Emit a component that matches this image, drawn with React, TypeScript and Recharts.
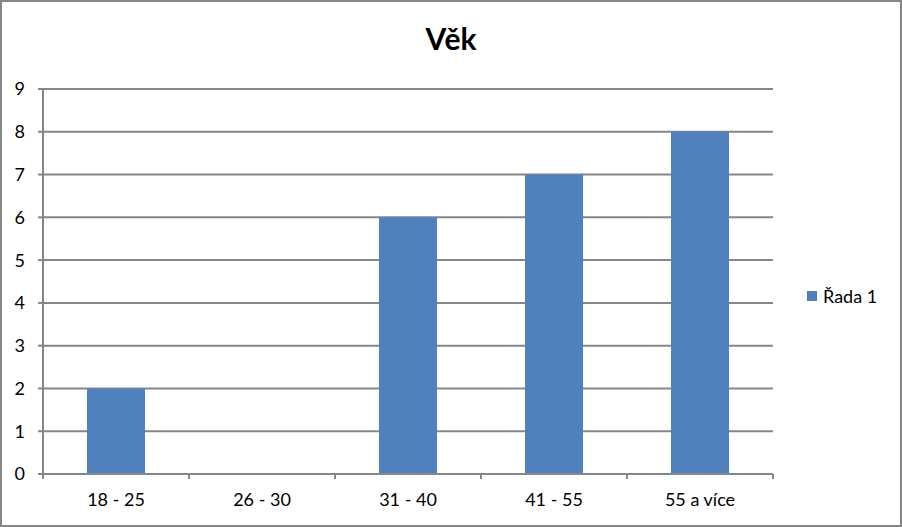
import { BarChart, Bar, XAxis, YAxis, CartesianGrid } from "recharts";

const categories = ["18 - 25", "26 - 30", "31 - 40", "41 - 55", "55 a více"];
const values = [2, 0, 6, 7, 8];
const yTicks = [0, 1, 2, 3, 4, 5, 6, 7, 8, 9];
const seriesName = "Řada 1";
const title = "Věk";

const data = categories.map((c, i) => ({ name: c, value: values[i] }));

const GRAY = "#868686";
const BLUE = "#4f81bd";
const FONT = "Lato, 'DejaVu Sans', sans-serif";

// category axis tick: label in the middle, tick marks on the category edges
function EdgeTick(props: any) {
  const { x, y, payload, index, visibleTicksCount } = props;
  const half = payload && payload.offset ? payload.offset : 73;
  const last = index === (visibleTicksCount ?? categories.length) - 1;
  return (
    <g>
      <line x1={x - half} y1={y - 8} x2={x - half} y2={y - 3} stroke={GRAY} strokeWidth={2} />
      {last && <line x1={x + half} y1={y - 8} x2={x + half} y2={y - 3} stroke={GRAY} strokeWidth={2} />}
      <text x={x} y={y + 24} textAnchor="middle" fill="#000" fontSize={18} fontFamily={FONT}>
        {payload.value}
      </text>
    </g>
  );
}

export default function App() {
  return (
    <div style={{ position: "absolute", left: 0, top: 0, width: 902, height: 527, background: "#fff" }}>
      <BarChart
        width={902}
        height={527}
        data={data}
        margin={{ top: 89, right: 129, bottom: 0, left: 0 }}
      >
        <CartesianGrid horizontal vertical={false} stroke={GRAY} strokeWidth={2} />
        <XAxis
          dataKey="name"
          height={53}
          tickLine={false}
          axisLine={{ stroke: GRAY, strokeWidth: 2 }}
          tick={<EdgeTick />}
          interval={0}
        />
        <YAxis
          width={43}
          domain={[0, 9]}
          ticks={yTicks}
          interval={0}
          tickSize={5}
          tickMargin={13}
          tickLine={{ stroke: GRAY, strokeWidth: 2 }}
          axisLine={{ stroke: GRAY, strokeWidth: 2 }}
          tick={{ fill: "#000", fontSize: 18, fontFamily: FONT }}
        />
        <Bar dataKey="value" name={seriesName} fill={BLUE} barSize={58} isAnimationActive={false} />
      </BarChart>
      <div
        style={{
          position: "absolute",
          left: 0,
          top: 20,
          width: 902,
          textAlign: "center",
          fontFamily: FONT,
          fontWeight: 700,
          fontSize: 30,
          lineHeight: "36px",
          color: "#000",
        }}
      >
        {title}
      </div>
      <div
        style={{
          position: "absolute",
          left: 807,
          top: 284,
          display: "flex",
          alignItems: "center",
          fontFamily: FONT,
          fontSize: 18,
          lineHeight: "24px",
          color: "#000",
        }}
      >
        <span style={{ display: "inline-block", width: 10, height: 10, background: BLUE, marginRight: 6 }} />
        {seriesName}
      </div>
      <div
        style={{
          position: "absolute",
          left: 0,
          top: 0,
          width: 902,
          height: 527,
          boxSizing: "border-box",
          border: `2px solid ${GRAY}`,
          pointerEvents: "none",
        }}
      />
    </div>
  );
}
